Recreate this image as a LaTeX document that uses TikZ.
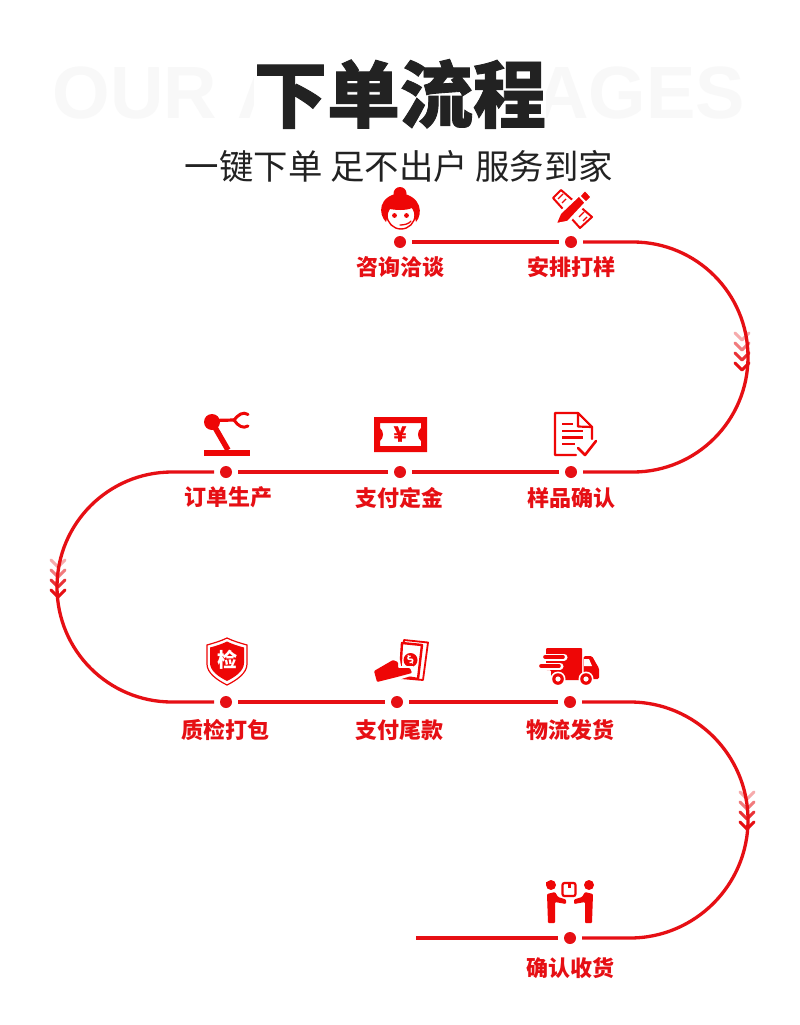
\documentclass[tikz,border=0pt]{standalone}
\usepackage{fontspec}
\setmainfont{Noto Sans CJK SC}
\newfontfamily\cjkhead{Noto Sans CJK SC}[BoldFeatures={FakeBold=1.2}]
\newfontfamily\latinbg{Liberation Sans}
\definecolor{linered}{HTML}{E60F14}
\definecolor{iconred}{HTML}{EE0606}
\definecolor{inkdark}{HTML}{222222}
\definecolor{ghost}{HTML}{F8F8F8}
\tikzset{
  dotnode/.style={circle,fill=linered,draw=none,minimum size=12pt,inner sep=0pt,outer sep=6pt},
  route/.style={draw=linered,line width=3.3pt},
  lab/.style={text=linered,font=\bfseries\fontsize{22}{24}\selectfont,inner sep=0pt},
  line icon/.style={draw=iconred,line width=2pt,fill=white,line join=round},
  stroke icon/.style={draw=iconred,line width=2.2pt,line cap=round,line join=round},
  wing/.style={draw=linered,line width=3pt,line cap=round,line join=round},
}
\newcommand{\chevrons}[2]{%
  \foreach \k/\o in {0/.35,10/.55,20/.85,30/1}{
    \draw[wing,opacity=\o] ({#1-7},{#2+\k-7}) -- ({#1},{#2+\k}) -- ({#1+7},{#2+\k-7});
  }}
\begin{document}
\begin{tikzpicture}[x=1pt,y=-1pt]
\useasboundingbox[fill=white] (0,0) rectangle (800,1025);
% headings
\node[text=ghost,font=\latinbg\bfseries\fontsize{74}{84}\selectfont,inner sep=0pt] (bgtext) at (399,93) {OUR ADVANTAGES};
\node[fill=white,minimum width=292pt,minimum height=70pt,inner sep=0pt,text=inkdark,font=\cjkhead\bfseries\fontsize{73}{80}\selectfont] (title) at (400,94) {下单流程};
\node[text=inkdark,font=\fontsize{34.4}{38}\selectfont,inner sep=0pt] (subtitle) at (399,166) {一键下单 足不出户 服务到家};
% dots
\node[dotnode] (d1) at (400,242) {};
\node[dotnode] (d2) at (571,242) {};
\node[dotnode] (d3) at (571,472) {};
\node[dotnode] (d4) at (400,472) {};
\node[dotnode] (d5) at (226,472) {};
\node[dotnode] (d6) at (226,702) {};
\node[dotnode] (d7) at (397,702) {};
\node[dotnode] (d8) at (570,702) {};
\node[dotnode] (d9) at (570,938) {};
\coordinate (tail) at (416,938);
% connectors
\draw[route] (d1) -- (d2);
\draw[route] (d2) -- (633,242) .. controls (696.5,242) and (748,293.5) .. (748,357) .. controls (748,420.5) and (696.5,472) .. (633,472) -- (d3);
\draw[route] (d3) -- (d4);
\draw[route] (d4) -- (d5);
\draw[route] (d5) -- (172,472) .. controls (108.5,472) and (57,523.5) .. (57,587) .. controls (57,650.5) and (108.5,702) .. (172,702) -- (d6);
\draw[route] (d6) -- (d7);
\draw[route] (d7) -- (d8);
\draw[route] (d8) -- (630,702) .. controls (695,702) and (748,755) .. (748,820) .. controls (748,885) and (695,938) .. (630,938) -- (d9);
\draw[route] (d9) -- (tail);
\chevrons{742}{340}
\chevrons{58}{567}
\chevrons{747}{799}
% labels
\node[lab] (l1) at (400,267) {咨询洽谈};
\node[lab] (l2) at (571,267) {安排打样};
\node[lab] (l3) at (571,498) {样品确认};
\node[lab] (l4) at (399,498) {支付定金};
\node[lab] (l5) at (228,497) {订单生产};
\node[lab] (l6) at (225,730) {质检打包};
\node[lab] (l7) at (399,730) {支付尾款};
\node[lab] (l8) at (570,730) {物流发货};
\node[lab] (l9) at (570,968) {确认收货};
% icon 1: consultant
\draw[draw=iconred,line width=1.4pt,fill=white] (401,215) circle (14);
\fill[iconred] (400,193.5) circle (6.5);
\fill[iconred] (386,222) .. controls (378,214) and (378,196) .. (400,193) .. controls (422,196) and (423,214) .. (416,222) .. controls (414,216) and (415,212) .. (412,208) .. controls (405,211) and (395,210) .. (390,209) .. controls (387,213) and (388,217) .. (386,222) -- cycle;
\fill[iconred] (394.5,215.5) circle (2.4);
\fill[iconred] (406.5,215.5) circle (2.4);
\draw[draw=iconred,line width=1.3pt,line cap=round] (400,225) .. controls (404,225) and (409,224) .. (411,221);
% icon 2: pencil and ruler
\draw[line icon] (553,198) -- (561,190) -- (592,217) -- (580,228) -- cycle;
\draw[stroke icon,line width=1.4pt,line cap=butt] (558,199) -- (563,194) (562,203) -- (566,199) (579,217) -- (584,212) (583,221) -- (587,217);
\draw[draw=white,line width=2.5pt,fill=iconred,line join=round] (555,224.5) -- (560,213) -- (579,195) -- (586,202.7) -- (568,222) -- cycle;
\draw[draw=white,line width=1pt,fill=iconred,rounded corners=1pt] (580,196) -- (585,190.5) -- (591,197) -- (586,202) -- cycle;
% icon 3: robot arm
\fill[iconred] (204,449.5) rectangle (250,455.5);
\draw[stroke icon,line width=5.5pt,line cap=butt] (213,424) -- (228,450);
\fill[iconred] (212,422) circle (8);
\draw[stroke icon,line width=3.2pt,line cap=butt] (214,420.5) -- (234,420);
\draw[stroke icon,line width=3pt] (248,414.5) .. controls (243,411) and (238,415) .. (234,420) .. controls (238,426) and (243,429) .. (248,426);
% icon 4: ticket
\fill[iconred,even odd rule] (374,417) rectangle (427,452)
  (380,423) -- (421,423) -- (421,428) .. controls (417,431) and (417,438) .. (421,441) -- (421,446) -- (380,446) -- (380,441) .. controls (384,438) and (384,431) .. (380,428) -- cycle;
\node[text=iconred,font=\cjkhead\bfseries\fontsize{21}{22}\selectfont,inner sep=0pt] (yen) at (400,434) {¥};
% icon 5: document
\draw[stroke icon] (592,439) -- (592,427) -- (578,413) -- (555,413) -- (555,455) -- (576,455);
\draw[stroke icon] (578,413) -- (578,426.5) -- (592,427);
\fill[white] (580,417) -- (580,425) -- (588,425) -- cycle;
\draw[stroke icon,line cap=butt,line width=2.4pt] (562,424) -- (573,424) (562,431) -- (583,431) (562,437.5) -- (583,437.5) (562,444) -- (575,444);
\draw[stroke icon,line width=2.6pt] (578,448) -- (585,455) -- (596,441);
% icon 6: shield
\draw[draw=iconred,line width=1.2pt,fill=white] (207,645) .. controls (214,643) and (221,641) .. (227,638) .. controls (233,641) and (240,643) .. (247,645) -- (247,664) .. controls (247,673) and (237,680) .. (227,685) .. controls (217,680) and (207,673) .. (207,664) -- cycle;
\fill[iconred] (210,647.5) .. controls (216,646) and (222,644) .. (227,641.5) .. controls (232,644) and (238,646) .. (244,647.5) -- (244,663) .. controls (244,671) and (235,677) .. (227,681) .. controls (219,677) and (210,671) .. (210,663) -- cycle;
\node[text=white,font=\bfseries\fontsize{20}{22}\selectfont,inner sep=0pt] (jian) at (227,660) {检};
% icon 7: hand and banknotes
\draw[line icon,line width=1.8pt] (404,640) -- (428,642.5) -- (423,680) -- (400,678) -- cycle;
\draw[line icon,line width=2.4pt] (402,643) -- (422,645) -- (418,679) -- (400,676) -- cycle;
\fill[iconred] (410.5,660) circle (7);
\node[text=white,rotate=30,font=\bfseries\fontsize{10}{10}\selectfont,inner sep=0pt] (dollar) at (410.5,660) {\$};
\fill[white] (372,672) -- (392,658) -- (400,660) -- (401,666) -- (413,666) -- (414,675) -- (398,680) -- (376,684) -- cycle;
\fill[iconred,rounded corners=1pt] (374,671) -- (393,660) -- (398,662) -- (398,668) -- (410,668) -- (412,673) -- (397,677) -- (377,682) -- cycle;
% icon 8: delivery truck
\fill[iconred,rounded corners=1pt] (546,648) -- (582,648) -- (582,680) -- (551,680) -- (551,670) -- (546,670) -- cycle;
\fill[iconred,rounded corners=1.5pt] (583.5,656) -- (592,656) -- (597,665) -- (599,668) -- (599,679) -- (583.5,679) -- cycle;
\fill[white] (584,659) -- (589,659) -- (592,666) -- (584,666) -- cycle;
\draw[white,line width=7pt,line cap=round] (542,657) -- (564,657) (537,666) -- (560,666);
\draw[iconred,line width=3.6pt,line cap=round] (545,657) -- (563,657) (541,666) -- (559,666);
\foreach \wx in {558,586}{
  \fill[white] (\wx,679) circle (7.5);
  \fill[iconred] (\wx,679) circle (5.8);
  \fill[white] (\wx,679) circle (2.6);
}
% icon 9: handover
\fill[iconred] (551,885) circle (5);
\fill[iconred] (546,882) rectangle (552,885);
\fill[iconred] (589,885) circle (5);
\draw[draw=iconred,line width=2.2pt,fill=white,rounded corners=2pt] (562.5,883) rectangle (575.5,896);
\fill[iconred] (567.5,883) rectangle (570.5,888);
\fill[iconred,rounded corners=1pt] (547,894) -- (555,892) -- (558,897) -- (566,899.5) -- (566,904) -- (555,902) -- (555,923) -- (548,923) -- cycle;
\fill[iconred,rounded corners=1pt] (593,894) -- (585,892) -- (582,897) -- (574,899.5) -- (574,904) -- (585,902) -- (585,923) -- (592,923) -- cycle;
\end{tikzpicture}
\end{document}
